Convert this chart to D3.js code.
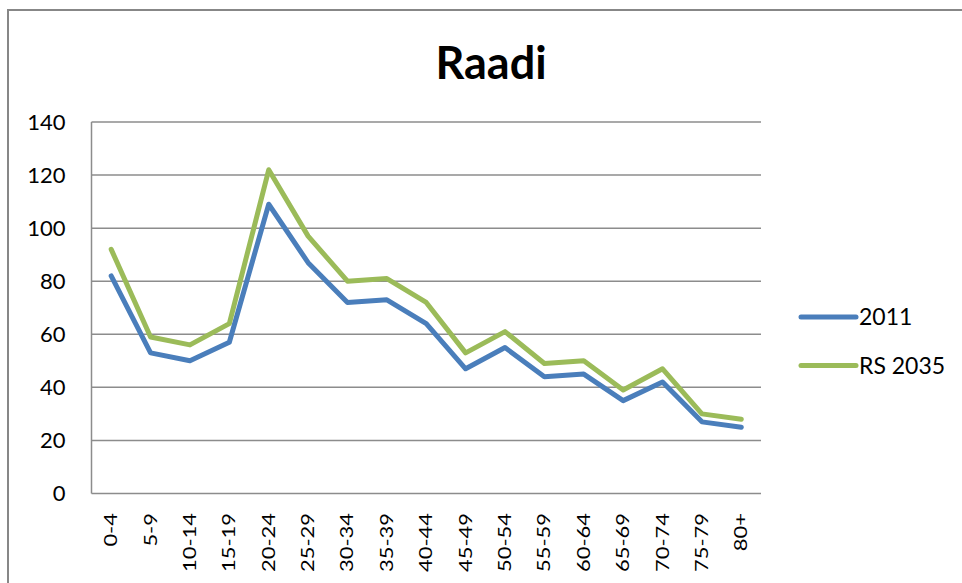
<!DOCTYPE html>
<html>
<head>
<meta charset="utf-8">
<script src="https://cdn.jsdelivr.net/npm/d3@7"></script>
<style>
  body { margin: 0; background: #fff; }
  svg { display: block; font-family: Lato, "Open Sans", sans-serif; }
</style>
</head>
<body>
<div id="chart"></div>
<script>
const ageGroups = ['0-4', '5-9', '10-14', '15-19', '20-24', '25-29', '30-34', '35-39', '40-44',
    '45-49', '50-54', '55-59', '60-64', '65-69', '70-74', '75-79', '80+'];
const values2011 = [82, 53, 50, 57, 109, 87, 72, 73, 64, 47, 55, 44, 45, 35, 42, 27, 25];
const valuesRS2035 = [92, 59, 56, 64, 122, 97, 80, 81, 72, 53, 61, 49, 50, 39, 47, 30, 28];
const yTicks = [0, 20, 40, 60, 80, 100, 120, 140];

const series = [
    { name: '2011', values: values2011, color: '#4a7ebb' },
    { name: 'RS 2035', values: valuesRS2035, color: '#9bbb59' }
];

const width = 962, height = 583;
const svg = d3.select('#chart').append('svg')
    .attr('width', width)
    .attr('height', height);

// outer chart frame (runs off the right and bottom edge)
svg.append('rect')
    .attr('x', 8).attr('y', 10)
    .attr('width', 970).attr('height', 600)
    .attr('fill', '#fff')
    .attr('stroke', '#878787')
    .attr('stroke-width', 2);

const margin = { top: 122, right: 201, bottom: 90, left: 91.5 };
const plotW = width - margin.left - margin.right;
const plotH = height - margin.top - margin.bottom;

const g = svg.append('g')
    .attr('transform', `translate(${margin.left},${margin.top})`);

const x = d3.scaleBand()
    .domain(ageGroups)
    .range([0, plotW]);

const y = d3.scaleLinear()
    .domain([0, 140])
    .range([plotH + 0.5, 0]);

// gridlines
g.selectAll('.grid')
    .data(yTicks)
    .enter().append('line')
    .attr('class', 'grid')
    .attr('x1', 0).attr('x2', plotW)
    .attr('y1', d => y(d)).attr('y2', d => y(d))
    .attr('stroke', '#8c8c8c')
    .attr('stroke-width', 1.5);

// plot border (left axis line)
g.append('line')
    .attr('x1', 0).attr('x2', 0)
    .attr('y1', y(0)).attr('y2', y(140))
    .attr('stroke', '#8c8c8c')
    .attr('stroke-width', 1.5);

// y axis labels
const yAxis = d3.axisLeft(y).tickValues(yTicks).tickSize(0).tickPadding(26);
g.append('g')
    .call(yAxis)
    .call(s => s.select('.domain').remove())
    .selectAll('text')
    .attr('font-family', 'Lato, sans-serif')
    .attr('font-size', 22)
    .attr('fill', '#000');

// x axis labels, rotated
const xAxis = d3.axisBottom(x).tickSize(0).tickPadding(0);
g.append('g')
    .attr('transform', `translate(0,${plotH})`)
    .call(xAxis)
    .call(s => s.select('.domain').remove())
    .selectAll('text')
    .attr('font-family', 'Lato, sans-serif')
    .attr('font-size', 18)
    .attr('fill', '#000')
    .attr('text-anchor', 'end')
    .attr('dy', null)
    .attr('y', 0)
    .attr('transform', 'translate(6,20) rotate(-90) scale(1.22,1)');

// lines
const line = d3.line()
    .x((d, i) => x(ageGroups[i]) + x.bandwidth() / 2)
    .y(d => y(d));

g.selectAll('.series')
    .data(series)
    .enter().append('path')
    .attr('class', 'series')
    .attr('d', d => line(d.values))
    .attr('fill', 'none')
    .attr('stroke', d => d.color)
    .attr('stroke-width', 5)
    .attr('stroke-linejoin', 'round')
    .attr('stroke-linecap', 'round');

// title
svg.append('text')
    .attr('x', 491)
    .attr('y', 79)
    .attr('text-anchor', 'middle')
    .attr('font-family', 'Lato, sans-serif')
    .attr('font-weight', 'bold')
    .attr('font-size', 45)
    .text('Raadi');

// legend
const legend = svg.append('g')
    .attr('transform', 'translate(801,317)');

const item = legend.selectAll('.item')
    .data(series)
    .enter().append('g')
    .attr('class', 'item')
    .attr('transform', (d, i) => `translate(0,${i * 48.5})`);

item.append('line')
    .attr('x1', 0).attr('x2', 55)
    .attr('stroke', d => d.color)
    .attr('stroke-width', 5)
    .attr('stroke-linecap', 'round');

item.append('text')
    .attr('x', 58)
    .attr('dy', '0.35em')
    .attr('font-family', 'Lato, sans-serif')
    .attr('font-size', 23)
    .text(d => d.name);
</script>
</body>
</html>
